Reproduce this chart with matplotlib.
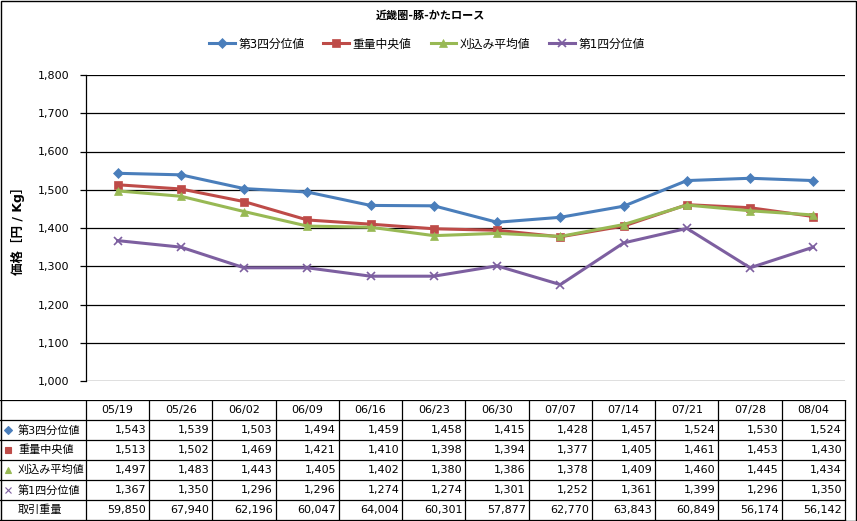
import matplotlib.pyplot as plt
from matplotlib.patches import Rectangle

plt.rcParams['font.family'] = ['DejaVu Sans', 'Noto Sans CJK JP']

# data
dates = ['05/19', '05/26', '06/02', '06/09', '06/16', '06/23', '06/30',
         '07/07', '07/14', '07/21', '07/28', '08/04']
q3 = [1543, 1539, 1503, 1494, 1459, 1458, 1415, 1428, 1457, 1524, 1530, 1524]
median = [1513, 1502, 1469, 1421, 1410, 1398, 1394, 1377, 1405, 1461, 1453, 1430]
mean = [1497, 1483, 1443, 1405, 1402, 1380, 1386, 1378, 1409, 1460, 1445, 1434]
q1 = [1367, 1350, 1296, 1296, 1274, 1274, 1301, 1252, 1361, 1399, 1296, 1350]
volume = [59850, 67940, 62196, 60047, 64004, 60301, 57877, 62770, 63843, 60849, 56174, 56142]

series = [
    ('第3四分位値', q3, '#4a7ebb', 'D', 5),
    ('重量中央値', median, '#be4b48', 's', 6),
    ('刈込み平均値', mean, '#98b954', '^', 6),
    ('第1四分位値', q1, '#7d5fa0', 'x', 6),
]

W, H = 857, 521
fig = plt.figure(figsize=(W / 100, H / 100), dpi=100)

# main plot area (pixel positions from the reference)
left, right, top, bottom = 86, 845, 75, 381
ax = fig.add_axes([left / W, 1 - bottom / H, (right - left) / W, (bottom - top) / H])
x = list(range(len(dates)))
for name, vals, col, mk, ms in series:
    ax.plot(x, vals, color=col, lw=2.2, marker=mk, markersize=ms,
            markeredgewidth=1.2 if mk == 'x' else 0.5, label=name)
ax.set_xlim(-0.5, len(dates) - 0.5)
ax.set_ylim(1000, 1800)
ax.set_yticks(range(1000, 1801, 100))
ax.set_yticklabels([f'{v:,}' for v in range(1000, 1801, 100)], fontsize=8)
ax.set_xticks([])
ax.grid(axis='y', color='black', lw=0.9)
ax.set_axisbelow(True)
for s in ['top', 'right', 'bottom']:
    ax.spines[s].set_visible(False)
ax.spines['left'].set_linewidth(0.9)
ax.tick_params(axis='y', length=4, width=0.9, pad=8)
ax.set_ylabel('価格［円 / Kg］', fontsize=9, fontweight='bold')
# the label anchor is its right edge once rotated
ax.yaxis.set_label_coords(25 / W, 1 - 228 / H, transform=fig.transFigure)

fig.text(430 / W, 1 - 16 / H, '近畿圏-豚-かたロース', ha='center', va='center',
         fontsize=8, fontweight='bold')
fig.legend(loc='center', bbox_to_anchor=(427 / W, 1 - 44 / H), ncol=4, frameon=False,
           fontsize=8.5, handlelength=2.2, columnspacing=1.6, handletextpad=0.3)

# data table below the chart
tb = fig.add_axes([0, 1 - 521 / H, 1, 121 / H])
tb.set_xlim(0, W)
tb.set_ylim(521, 400)
tb.axis('off')
col_w = (right - left) / len(dates)
row_y = [400, 420, 440, 460, 480, 500, 520]
for yy in row_y:
    tb.plot([0, right], [yy, yy], color='black', lw=0.9)
for i in range(len(dates) + 1):
    xx = left + i * col_w
    tb.plot([xx, xx], [400, 520], color='black', lw=0.9)

for i, d in enumerate(dates):
    tb.text(left + (i + 0.5) * col_w, 410, d, ha='center', va='center', fontsize=8)

rows = [(name, vals, col, mk) for name, vals, col, mk, _ in series]
rows.append(('取引重量', volume, None, None))
for r, (name, vals, col, mk) in enumerate(rows):
    yc = 430 + r * 20
    if mk is not None:
        tb.plot([8], [yc], marker=mk, color=col, markersize=4.5, markeredgewidth=0.8)
    tb.text(18, yc, name, ha='left', va='center', fontsize=8)
    for i, v in enumerate(vals):
        tb.text(left + (i + 1) * col_w - 3, yc, f'{v:,}', ha='right', va='center', fontsize=8)

# outer frame
fig.patches.append(Rectangle((0.5 / W, 0.5 / H), (W - 1.5) / W, (H - 1.5) / H,
                             transform=fig.transFigure, fill=False, ec='black', lw=1))

fig.savefig('out.png', dpi=100)
